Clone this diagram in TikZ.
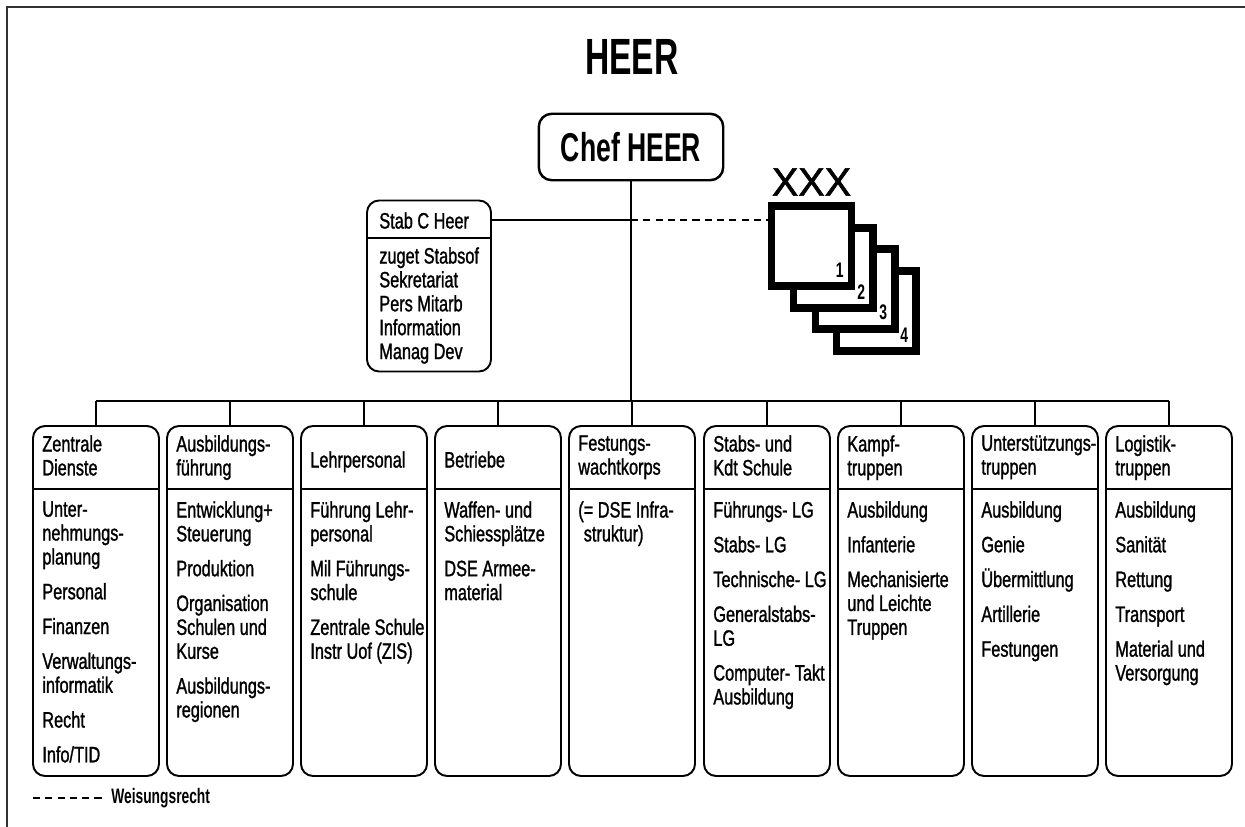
\documentclass[tikz,border=0pt]{standalone}
\usepackage{fontspec}
\setmainfont{Liberation Sans}[FakeStretch=0.73, FakeBold=1.2]
\newfontfamily\heavy{Liberation Sans}[FakeStretch=0.66]
\newfontfamily\plainsans{Liberation Sans}[FakeBold=1.5]
\usetikzlibrary{positioning}
\newlength{\itemgap}
\setlength{\itemgap}{6.2pt}

\begin{document}
\begin{tikzpicture}[x=0.02cm, y=-0.02cm,
  box/.style={draw, line width=1.1pt, rounded corners=6.8pt, minimum width=2.52cm, minimum height=7cm},
  kopf/.style={anchor=north west, inner sep=0pt, align=left, font=\fontsize{12.7}{13.6}\selectfont},
  liste/.style={kopf},
  trenn/.style={line width=0.6pt},
  linie/.style={line width=0.7pt},
  weisung/.style={line width=0.7pt, dash pattern=on 4pt off 3pt},
  korps/.style={draw, line width=4pt, fill=white, minimum size=1.6cm, inner sep=0pt},
  nr/.style={anchor=south east, inner sep=0pt, font=\heavy\bfseries\fontsize{12}{12}\selectfont}]
\useasboundingbox (0,0) rectangle (1245,827);
\draw[line width=0.8pt, black!80] (7,827) -- (7,7) -- (1245,7);

\node[inner sep=0pt, font=\heavy\bfseries\fontsize{29}{30}\selectfont] (titel) at (632,57) {HEER};
\node[draw, line width=1.4pt, rounded corners=7.4pt, minimum width=3.69cm, minimum height=1.33cm, font=\heavy\bfseries\fontsize{22.9}{24}\selectfont] (chef) at (631,147) {Chef HEER};

% Stab
\node[draw, line width=1.1pt, rounded corners=6.8pt, minimum width=2.48cm, minimum height=3.42cm] (stab) at (429,286) {};
\node[kopf] (stabk) at (379,212) {Stab C Heer};
\draw[trenn] (stab.west |- 0,238) -- (stab.east |- 0,238);
\node[liste] (stabl) at (379,247) {zuget Stabsof\\Sekretariat\\Pers Mitarb\\Information\\Manag Dev};

% Korps
\node[korps] (k4) at (876,311) {};
\node[korps] (k3) at (855,289) {};
\node[korps] (k2) at (833,268) {};
\node[korps] (k1) at (811.5,246) {};
\node[above=0.13cm of k1, inner sep=0pt, font=\plainsans\fontsize{22.5}{24}\selectfont] (xxx) {XXX};
\node[nr] at ([shift={(-11,-12)}]k1.south east) {1};
\node[nr] at ([shift={(-11,-12)}]k2.south east) {2};
\node[nr] at ([shift={(-11,-12)}]k3.south east) {3};
\node[nr] at ([shift={(-11,-12)}]k4.south east) {4};

% Abteilungen
\node[box] (zd) at (96,601) {};
\node[kopf] (zdk) at (42,435) {Zentrale\\Dienste};
\draw[trenn] (zd.west |- 0,489) -- (zd.east |- 0,489);
\node[liste] (zdl) at (42,501) {Unter-\\nehmungs-\\planung\\[\itemgap]Personal\\[\itemgap]Finanzen\\[\itemgap]Verwaltungs-\\informatik\\[\itemgap]Recht\\[\itemgap]Info/TID};

\node[box] (af) at (230,601) {};
\node[kopf] (afk) at (176,435) {Ausbildungs-\\führung};
\draw[trenn] (af.west |- 0,489) -- (af.east |- 0,489);
\node[liste] (afl) at (176,501) {Entwicklung+\\Steuerung\\[\itemgap]Produktion\\[\itemgap]Organisation\\Schulen und\\Kurse\\[\itemgap]Ausbildungs-\\regionen};

\node[box] (lp) at (364,601) {};
\node[kopf] (lpk) at (310,451) {Lehrpersonal};
\draw[trenn] (lp.west |- 0,489) -- (lp.east |- 0,489);
\node[liste] (lpl) at (310,501) {Führung Lehr-\\personal\\[\itemgap]Mil Führungs-\\schule\\[\itemgap]Zentrale Schule\\Instr Uof (ZIS)};

\node[box] (be) at (498,601) {};
\node[kopf] (bek) at (444,451) {Betriebe};
\draw[trenn] (be.west |- 0,489) -- (be.east |- 0,489);
\node[liste] (bel) at (444,501) {Waffen- und\\Schiessplätze\\[\itemgap]DSE Armee-\\material};

\node[box] (fw) at (632,601) {};
\node[kopf] (fwk) at (578,435) {Festungs-\\wachtkorps};
\draw[trenn] (fw.west |- 0,489) -- (fw.east |- 0,489);
\node[liste] (fwl) at (578,501) {(= DSE Infra-\\\hphantom{(}struktur)};

\node[box] (sk) at (767,601) {};
\node[kopf] (skk) at (713,435) {Stabs- und\\Kdt Schule};
\draw[trenn] (sk.west |- 0,489) -- (sk.east |- 0,489);
\node[liste] (skl) at (713,501) {Führungs- LG\\[\itemgap]Stabs- LG\\[\itemgap]Technische- LG\\[\itemgap]Generalstabs-\\LG\\[\itemgap]Computer- Takt\\Ausbildung};

\node[box] (kt) at (901,601) {};
\node[kopf] (ktk) at (847,435) {Kampf-\\truppen};
\draw[trenn] (kt.west |- 0,489) -- (kt.east |- 0,489);
\node[liste] (ktl) at (847,501) {Ausbildung\\[\itemgap]Infanterie\\[\itemgap]Mechanisierte\\und Leichte\\Truppen};

\node[box] (ut) at (1035,601) {};
\node[kopf] (utk) at (981,435) {Unterstützungs-\\truppen};
\draw[trenn] (ut.west |- 0,489) -- (ut.east |- 0,489);
\node[liste] (utl) at (981,501) {Ausbildung\\[\itemgap]Genie\\[\itemgap]Übermittlung\\[\itemgap]Artillerie\\[\itemgap]Festungen};

\node[box] (lt) at (1169,601) {};
\node[kopf] (ltk) at (1115,435) {Logistik-\\truppen};
\draw[trenn] (lt.west |- 0,489) -- (lt.east |- 0,489);
\node[liste] (ltl) at (1115,501) {Ausbildung\\[\itemgap]Sanität\\[\itemgap]Rettung\\[\itemgap]Transport\\[\itemgap]Material und\\Versorgung};

% Verbindungen
\coordinate (kreuz) at (chef.south |- 0,220);
\coordinate (bus) at (chef.south |- 0,401);
\draw[linie] (chef.south) -- (bus);
\draw[linie] (stab.east |- kreuz) -- (kreuz);
\draw[weisung] (kreuz) -- (k1.west |- kreuz);
\draw[linie] (zd.north |- bus) -- (lt.north |- bus);
\draw[linie] (zd.north |- bus) -- (zd.north);
\draw[linie] (af.north |- bus) -- (af.north);
\draw[linie] (lp.north |- bus) -- (lp.north);
\draw[linie] (be.north |- bus) -- (be.north);
\draw[linie] (fw.north |- bus) -- (fw.north);
\draw[linie] (sk.north |- bus) -- (sk.north);
\draw[linie] (kt.north |- bus) -- (kt.north);
\draw[linie] (ut.north |- bus) -- (ut.north);
\draw[linie] (lt.north |- bus) -- (lt.north);

% Legende
\node[anchor=west, inner sep=0pt, font=\heavy\bfseries\fontsize{11.9}{12}\selectfont] (leg) at (111,798) {Weisungsrecht};
\coordinate (legstart) at (33,798);
\draw[weisung] (legstart) -- ([xshift=-5pt]leg.west);
\end{tikzpicture}
\end{document}
